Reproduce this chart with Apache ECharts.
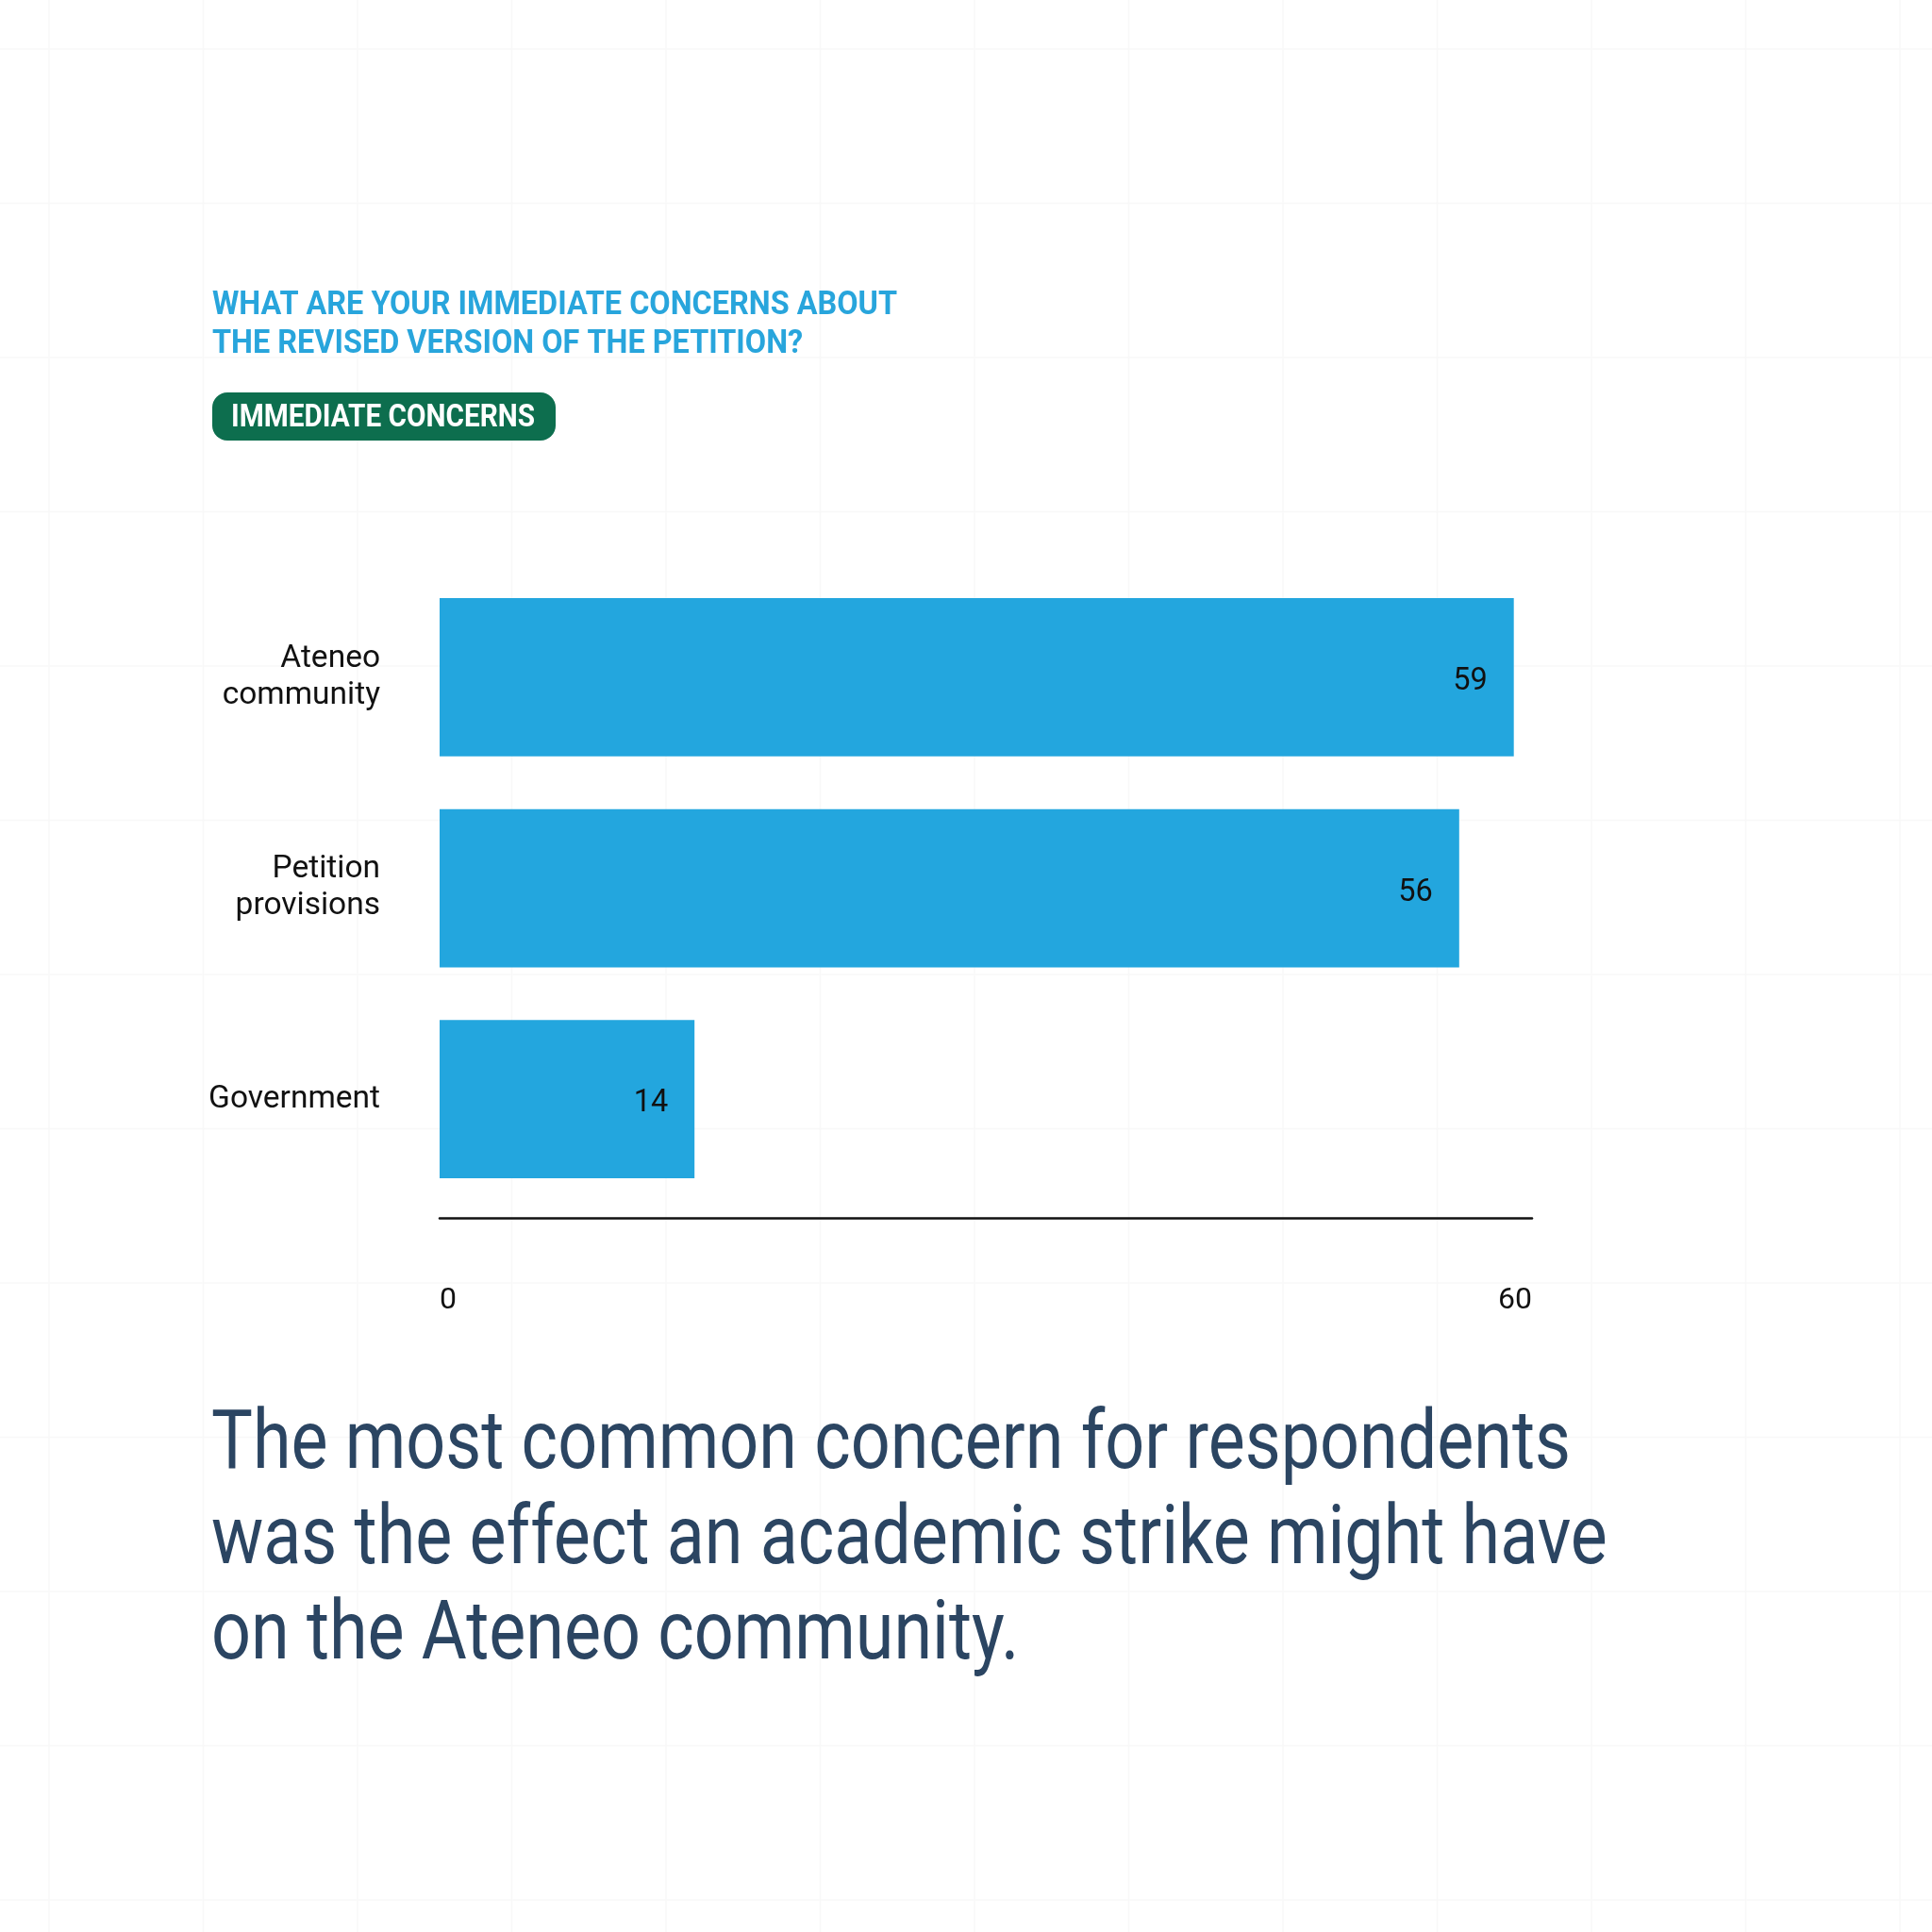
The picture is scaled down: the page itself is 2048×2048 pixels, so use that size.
<!DOCTYPE html>
<html>
<head>
<meta charset="utf-8">
<script src="https://cdn.jsdelivr.net/npm/echarts@6/dist/echarts.min.js"></script>
<style>
html,body{margin:0;padding:0;background:#ffffff;}
#chart{width:2048px;height:2048px;}
</style>
</head>
<body>
<div id="chart"></div>
<script>
// ---- data ----
const categories = ['Ateneo community', 'Petition provisions', 'Government'];
const values = [59, 56, 14];
const axisMin = 0;
const axisMax = 60;
const axisTickLabels = ['0', '60'];
const titleLines = ['WHAT ARE YOUR IMMEDIATE CONCERNS ABOUT', 'THE REVISED VERSION OF THE PETITION?'];
const pillText = 'IMMEDIATE CONCERNS';
const noteLines = ['The most common concern for respondents', 'was the effect an academic strike might have', 'on the Ateneo community.'];

// ---- helpers ----
const measureCtx = document.createElement('canvas').getContext('2d');
function fitScale(text, font, target) {
  measureCtx.font = font;
  const w = measureCtx.measureText(text).width;
  return w > 0 ? target / w : 1;
}

const FONT = 'Roboto, "Noto Sans", sans-serif';
const titleScale = fitScale(titleLines[0], 'bold 35px Roboto', 726);
const pillScale = fitScale(pillText, 'bold 33px Roboto', 322);
const noteScale = fitScale(noteLines[0], 'normal 88px Roboto', 1441);

// faint background grid
const bgLines = [];
for (let p = 52; p < 2048; p += 163.5) {
  bgLines.push({ type: 'line', silent: true, z: -10,
    shape: { x1: p, y1: 0, x2: p, y2: 2048 }, style: { stroke: '#f8f8f8', lineWidth: 1.5 } });
  bgLines.push({ type: 'line', silent: true, z: -10,
    shape: { x1: 0, y1: p, x2: 2048, y2: p }, style: { stroke: '#f8f8f8', lineWidth: 1.5 } });
}

const chart = echarts.init(document.getElementById('chart'), null, { renderer: 'canvas' });
chart.setOption({
  backgroundColor: '#ffffff',
  animation: false,
  grid: { left: 466, top: 606, width: 1158, height: 671, containLabel: false },
  xAxis: {
    type: 'value',
    min: axisMin,
    max: axisMax,
    interval: axisMax - axisMin,
    offset: 14,
    position: 'bottom',
    axisLine: { show: true, lineStyle: { color: '#111111', width: 2.5 } },
    axisTick: { show: false },
    splitLine: { show: false },
    axisLabel: {
      show: true,
      margin: 72,
      fontFamily: FONT,
      fontSize: 32,
      color: '#111111',
      alignMinLabel: 'left',
      alignMaxLabel: 'right',
      formatter: function (v) { return v === axisMin ? axisTickLabels[0] : axisTickLabels[1]; }
    }
  },
  yAxis: {
    type: 'category',
    data: categories,
    inverse: true,
    axisLine: { show: false },
    axisTick: { show: false },
    splitLine: { show: false },
    axisLabel: {
      margin: 63,
      fontFamily: FONT,
      fontSize: 33.5,
      lineHeight: 39,
      color: '#111111',
      align: 'right',
      padding: [11, 0, 0, 0],
      formatter: function (v) { return v.replace(' ', '\n'); }
    }
  },
  series: [{
    type: 'bar',
    data: values,
    barCategoryGap: '25%',
    itemStyle: { color: '#23a6de' },
    label: {
      show: true,
      position: 'insideRight',
      distance: 28,
      offset: [0, 5],
      fontFamily: FONT,
      fontSize: 32.5,
      color: '#111111'
    }
  }],
  graphic: bgLines.concat([
    {
      type: 'text', x: 225, y: 304, scaleX: titleScale, z: 10,
      style: {
        x: 0, y: 0,
        text: titleLines.join('\n'),
        font: 'bold 35px Roboto',
        lineHeight: 40.5,
        fill: '#28a5dc',
        verticalAlign: 'top'
      }
    },
    {
      type: 'rect', z: 10,
      shape: { x: 225, y: 416, width: 364, height: 51, r: 16 },
      style: { fill: '#0d6e4e' }
    },
    {
      type: 'text', x: 245, y: 444, scaleX: pillScale, z: 11,
      style: {
        x: 0, y: 0,
        text: pillText,
        font: 'bold 33px Roboto',
        fill: '#ffffff',
        verticalAlign: 'middle'
      }
    },
    {
      type: 'text', x: 224, y: 1483, scaleX: noteScale, z: 10,
      style: {
        x: 0, y: 0,
        text: noteLines.join('\n'),
        font: 'normal 88px Roboto',
        lineHeight: 101,
        fill: '#2b4562',
        verticalAlign: 'top'
      }
    }
  ])
});
</script>
</body>
</html>
